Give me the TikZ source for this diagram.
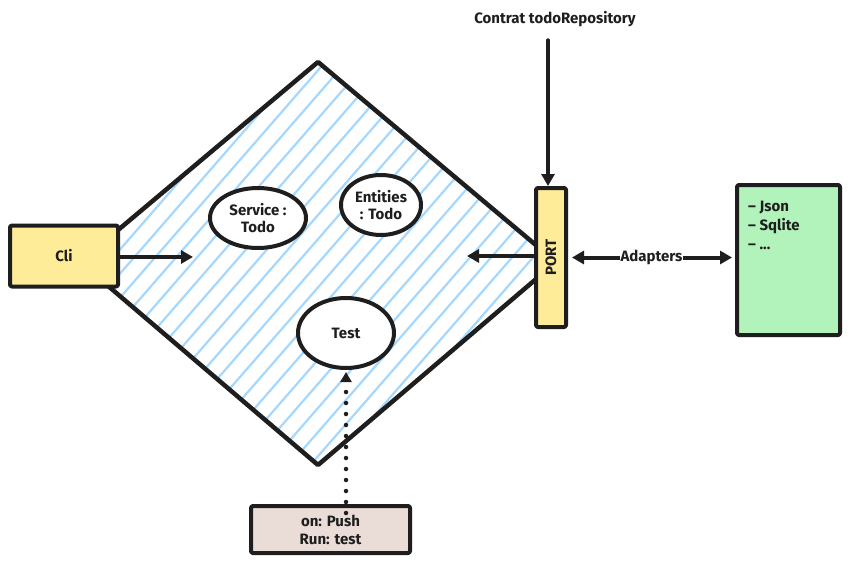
\documentclass[tikz,border=0pt]{standalone}
\usepackage{fontspec}
\setmainfont{Fira Sans}
\usetikzlibrary{arrows.meta,shapes.geometric}
\definecolor{inkblack}{HTML}{1E1E1E}
\definecolor{cliyellow}{HTML}{FFEC99}
\definecolor{adapgreen}{HTML}{B2F2BB}
\definecolor{ciback}{HTML}{EADDD7}
\definecolor{hatchblue}{HTML}{A5D8FF}
\tikzset{
	ink/.style={draw=inkblack,line width=4pt,line join=round,line cap=round},
	box/.style={ink,rounded corners=2pt,inner sep=0pt,align=center},
	bubble/.style={ellipse,ink,fill=white,inner sep=0pt,align=center},
	link/.style={ink,->},
}
\begin{document}
\begin{tikzpicture}[x=1pt,y=-1pt,>={Triangle[length=12pt,width=13pt]},
	font=\bfseries\fontsize{15}{17}\selectfont,text=inkblack]
	\useasboundingbox[fill=white] (0,0) rectangle (849,562);
	% hexagon core (drawn as a diamond)
	\coordinate (ctop) at (318,62);
	\coordinate (cright) at (556,262);
	\coordinate (cbottom) at (318,465);
	\coordinate (cleft) at (80,262);
	\begin{scope}
		\clip (ctop)--(cright)--(cbottom)--(cleft)--cycle;
		\foreach \c in {-240,-219,...,600}
			\draw[hatchblue,line width=2.2pt] (\c,470)--(\c+357,60);
	\end{scope}
	\draw[ink,line width=4.5pt] (ctop)--(cright)--(cbottom)--(cleft)--cycle;
	% boxes
	\node[box,fill=cliyellow,minimum width=108pt,minimum height=61pt] (cli) at (64,256) {Cli};
	\node[box,fill=cliyellow,rotate=90,minimum width=139pt,minimum height=30pt] (port) at (551,257.5) {PORT};
	\node[box,fill=adapgreen,minimum width=103pt,minimum height=150pt] (store) at (788.5,260) {};
	\node[anchor=north west,align=left,inner sep=0pt,font=\bfseries\fontsize{15}{19}\selectfont] (storelist) at (748,201) {-- Json\\-- Sqlite\\-- ...};
	\node[box,fill=ciback,minimum width=159pt,minimum height=47pt,font=\bfseries\fontsize{15}{18}\selectfont] (ci) at (330.5,529.5) {on: Push\\Run: test};
	% domain
	\node[bubble,minimum width=96pt,minimum height=60pt] (service) at (258,218) {Service :\\Todo};
	\node[bubble,minimum width=80pt,minimum height=60pt] (entities) at (381,205) {Entities\\: Todo};
	\node[bubble,minimum width=96pt,minimum height=70pt] (test) at (346,333) {Test};
	\node (contract) at (555,19) {Contrat todoRepository};
	% arrows
	\coordinate (cliend) at (193,257);
	\coordinate (portend) at (467,256);
	\draw[link] (cli.east|-cliend)--(cliend);
	\draw[link] (port.north|-portend)--(portend);
	\draw[link] ([xshift=-3pt]contract.south-|port.east) ++(0,10)--([xshift=-3pt]port.east);
	\draw[ink,<->,shorten <=4pt,shorten >=3pt] (port.south)--node[fill=white,inner sep=1pt]{Adapters}(store.west|-port.south);
	\draw[ink,line width=4.5pt,-{Triangle[length=10pt,width=11pt]},dash pattern=on 0pt off 11pt,shorten <=-9pt,shorten >=2pt] (test.south|-ci.north)--(test.south);
\end{tikzpicture}
\end{document}
